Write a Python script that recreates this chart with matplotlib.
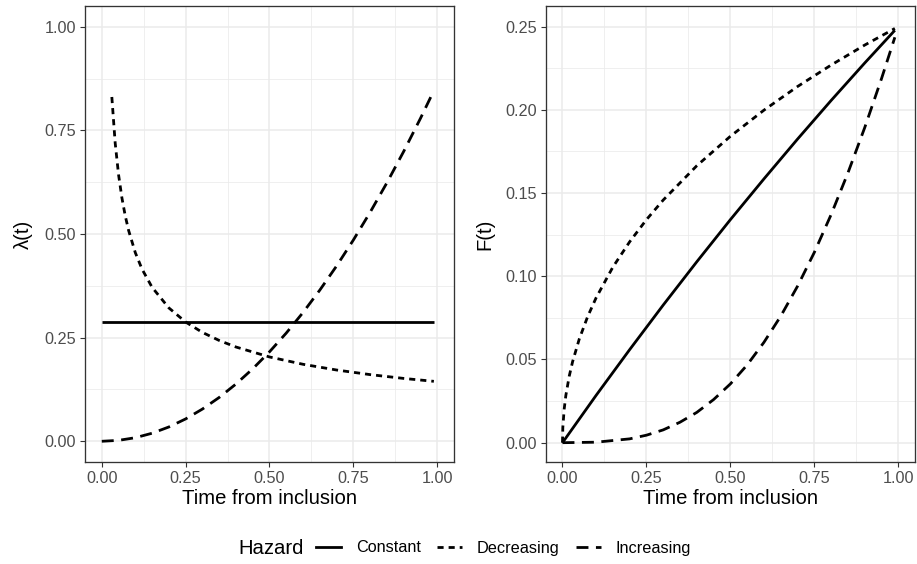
import matplotlib
matplotlib.use("Agg")
import matplotlib.pyplot as plt
from matplotlib.lines import Line2D
from matplotlib.ticker import MultipleLocator

plt.rcParams['font.family'] = ['Liberation Sans', 'DejaVu Sans']

# ---- data ----
# hazard panel
t_const = [0.0, 0.99]
haz_const = [0.288, 0.288]

t_haz_dec = [0.03, 0.04, 0.05, 0.06, 0.07, 0.08, 0.10, 0.12, 0.15, 0.20, 0.25,
             0.30, 0.35, 0.40, 0.50, 0.60, 0.70, 0.80, 0.90, 0.99]
haz_dec = [0.8305, 0.7193, 0.6433, 0.5873, 0.5437, 0.5086, 0.4549, 0.4153, 0.3714,
           0.3217, 0.2877, 0.2626, 0.2432, 0.2274, 0.2034, 0.1857, 0.1719, 0.1608,
           0.1516, 0.1446]

t_inc = [0.0, 0.05, 0.10, 0.15, 0.20, 0.25, 0.30, 0.35, 0.40, 0.45, 0.50, 0.55,
         0.60, 0.65, 0.70, 0.75, 0.80, 0.85, 0.90, 0.95, 0.99]
haz_inc = [0.0, 0.0022, 0.0086, 0.0194, 0.0345, 0.0539, 0.0777, 0.1057, 0.1381,
           0.1748, 0.2158, 0.2611, 0.3107, 0.3647, 0.4229, 0.4855, 0.5524, 0.6236,
           0.6991, 0.7789, 0.8459]

# cumulative incidence panel
t_cdf_const = [0.0, 0.1, 0.2, 0.3, 0.4, 0.5, 0.6, 0.7, 0.8, 0.9, 0.99]
cdf_const = [0.0, 0.0284, 0.0559, 0.0827, 0.1087, 0.1340, 0.1585, 0.1824, 0.2056,
             0.2281, 0.2478]

t_cdf_dec = [0.0, 0.001, 0.005, 0.01, 0.02, 0.03, 0.05, 0.075, 0.10, 0.15, 0.20,
             0.25, 0.30, 0.40, 0.50, 0.60, 0.70, 0.80, 0.90, 0.99]
cdf_dec = [0.0, 0.0091, 0.0201, 0.0284, 0.0399, 0.0486, 0.0623, 0.0758, 0.0870,
           0.1055, 0.1207, 0.1340, 0.1458, 0.1664, 0.1841, 0.1998, 0.2140, 0.2269,
           0.2389, 0.2489]

t_cdf_inc = [0.0, 0.10, 0.20, 0.25, 0.30, 0.35, 0.40, 0.45, 0.50, 0.55, 0.60, 0.65,
             0.70, 0.75, 0.80, 0.85, 0.90, 0.95, 0.99]
cdf_inc = [0.0, 0.0003, 0.0023, 0.0045, 0.0077, 0.0123, 0.0182, 0.0259, 0.0353,
           0.0467, 0.0603, 0.0760, 0.0940, 0.1143, 0.1370, 0.1620, 0.1892, 0.2186,
           0.2436]

hazard_labels = ["Constant", "Decreasing", "Increasing"]

# ---- styling (ggplot theme_bw look) ----
LW = 2.0
STYLES = {
    "Constant": "solid",
    "Decreasing": (0, (2.2, 1.8)),
    "Increasing": (0, (4.3, 2.7)),
}
TICK_COL = "#4D4D4D"
BORDER_COL = "#333333"
GRID_COL = "#EBEBEB"
W, H = 917, 564


def style_axes(ax, ylim, ymajor, yminor, yfmt):
    ax.set_xlim(-0.05, 1.05)
    ax.set_ylim(*ylim)
    ax.xaxis.set_major_locator(MultipleLocator(0.25))
    ax.xaxis.set_minor_locator(MultipleLocator(0.125))
    ax.yaxis.set_major_locator(MultipleLocator(ymajor))
    ax.yaxis.set_minor_locator(MultipleLocator(yminor))
    ax.xaxis.set_major_formatter(lambda v, p: f"{v:.2f}")
    ax.yaxis.set_major_formatter(lambda v, p: yfmt.format(v))
    ax.grid(True, which="major", color=GRID_COL, lw=1.1)
    ax.grid(True, which="minor", color=GRID_COL, lw=0.55)
    ax.set_axisbelow(True)
    ax.tick_params(which="major", length=3.7, width=0.8, color=BORDER_COL,
                   labelcolor=TICK_COL, labelsize=11.7, pad=2.8)
    ax.tick_params(which="minor", length=0)
    for s in ax.spines.values():
        s.set_color(BORDER_COL)
        s.set_linewidth(0.95)


def line(ax, x, y, kind):
    ax.plot(x, y, color="black", lw=LW, linestyle=STYLES[kind],
            dash_capstyle="butt", solid_capstyle="butt")


fig = plt.figure(figsize=(W / 100, H / 100), dpi=100)

ax1 = fig.add_axes([85 / W, 1 - 462 / H, 369 / W, 456 / H])
ax2 = fig.add_axes([545.7 / W, 1 - 462 / H, 369.3 / W, 456 / H])

line(ax1, t_const, haz_const, "Constant")
line(ax1, t_haz_dec, haz_dec, "Decreasing")
line(ax1, t_inc, haz_inc, "Increasing")
style_axes(ax1, (-0.05, 1.05), 0.25, 0.125, "{:.2f}")
ax1.set_ylabel("λ(t)", fontsize=14.6, labelpad=8)
ax1.set_xlabel("Time from inclusion", fontsize=14.6, labelpad=2)

line(ax2, t_cdf_const, cdf_const, "Constant")
line(ax2, t_cdf_dec, cdf_dec, "Decreasing")
line(ax2, t_cdf_inc, cdf_inc, "Increasing")
style_axes(ax2, (-0.0116, 0.2624), 0.05, 0.025, "{:.2f}")
ax2.set_ylabel("F(t)", fontsize=14.6, labelpad=8)
ax2.set_xlabel("Time from inclusion", fontsize=14.6, labelpad=2)

# legend along the bottom, title to the left
handles = [Line2D([], [], color="black", lw=LW, linestyle=STYLES[k],
                  dash_capstyle="butt") for k in hazard_labels]
fig.legend(handles, hazard_labels, loc="center", ncol=3, frameon=False,
           bbox_to_anchor=(503.5 / W, 1 - 548 / H), fontsize=11.7,
           handlelength=1.55, handletextpad=0.9, columnspacing=1.0)
fig.text(238 / W, 1 - 548 / H, "Hazard", fontsize=14.6, ha="left", va="center")

fig.savefig("out.png", dpi=100)
